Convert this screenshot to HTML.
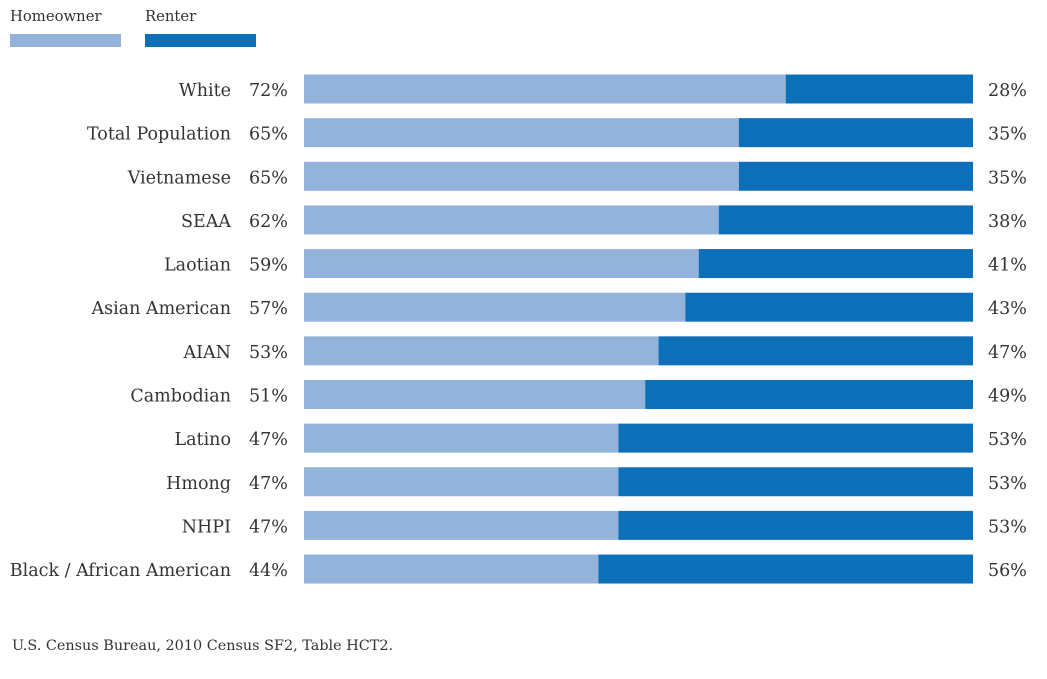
<!DOCTYPE html>
<html><head><meta charset="utf-8"><style>
body{margin:0;background:#fff;width:1047px;height:675px;overflow:hidden;font-family:"DejaVu Serif",serif;color:#333}
svg text{font-family:"DejaVu Serif",serif;fill:#333}
</style></head><body>
<svg id="chart" width="1047" height="675">
<g>
<text x="10" y="21" font-size="14.8">Homeowner</text>
<rect x="10" y="34" width="111" height="13" fill="#93b3db"/>
<text x="145" y="21" font-size="14.8">Renter</text>
<rect x="145" y="34" width="111" height="13" fill="#0d6fb8"/>
</g>
<g id="bars"></g>
<text x="12" y="650" font-size="14.4">U.S. Census Bureau, 2010 Census SF2, Table HCT2.</text>
</svg>
<script>
const categories=["White","Total Population","Vietnamese","SEAA","Laotian","Asian American","AIAN","Cambodian","Latino","Hmong","NHPI","Black / African American"];
const homeowner=[72,65,65,62,59,57,53,51,47,47,47,44];
const renter=[28,35,35,38,41,43,47,49,53,53,53,56];
const x0=304,x1=973,yTop=89,pitch=43.64,bh=29;
const xs=v=>x0+(x1-x0)*v/100;
const ys=i=>yTop+i*pitch;
const g=document.getElementById('bars');
const NS="http://www.w3.org/2000/svg";
function mk(tag,attrs,txt){const e=document.createElementNS(NS,tag);for(const k in attrs)e.setAttribute(k,attrs[k]);if(txt!==undefined)e.textContent=txt;g.appendChild(e);return e;}
categories.forEach((c,i)=>{
  const cy=ys(i);
  const total=homeowner[i]+renter[i];
  const hx=xs(homeowner[i]/total*100);
  let e=mk('rect',{x:x0,y:cy-bh/2,width:hx-x0,height:bh,fill:'#93b3db'});
  
  
  e=mk('rect',{x:hx,y:cy-bh/2,width:x1-hx,height:bh,fill:'#0d6fb8'});
  
  
  e=mk('text',{x:231,y:cy+7,'font-size':17.5,'text-anchor':'end'},c);
  
  
  e=mk('text',{x:249,y:cy+7,'font-size':17.5},homeowner[i]+'%');
  
  
  e=mk('text',{x:988,y:cy+7,'font-size':17.5},renter[i]+'%');
  
  
});
</script>
</body></html>
